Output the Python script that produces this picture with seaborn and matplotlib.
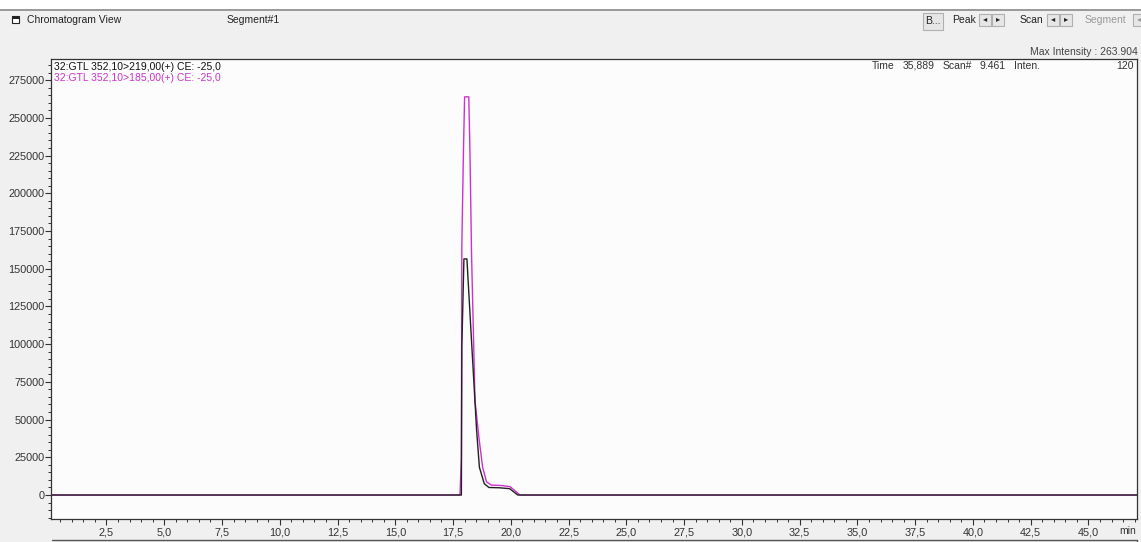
import pandas as pd
import matplotlib.pyplot as plt
import matplotlib.patches as mpatches
from matplotlib.ticker import MultipleLocator, FuncFormatter
import seaborn as sns

# Trace labels
label_219 = "32:GTL 352,10>219,00(+) CE: -25,0"
label_185 = "32:GTL 352,10>185,00(+) CE: -25,0"

# Trace 352,10>219,00 (black)
time_219 = [0.1, 17.86, 17.88, 17.97, 18.10, 18.30, 18.52, 18.64, 18.85,
            19.05, 19.50, 19.95, 20.30, 47.1]
inten_219 = [0, 0, 98000, 156500, 156500, 102000, 42800, 18400, 7500,
             5000, 4800, 4200, 0, 0]

# Trace 352,10>185,00 (magenta)
time_185 = [0.1, 17.80, 17.86, 17.88, 17.95, 18.00, 18.18, 18.23, 18.30,
            18.45, 18.62, 18.78, 18.95, 19.15, 19.60, 19.97, 20.40, 47.1]
inten_185 = [0, 0, 25000, 165000, 228000, 263904, 263904, 229000, 160000,
             62500, 38000, 18400, 8700, 6600, 6300, 5500, 0, 0]

df = pd.concat([
    pd.DataFrame({"time": time_185, "inten": inten_185, "trace": label_185}),
    pd.DataFrame({"time": time_219, "inten": inten_219, "trace": label_219}),
])

sns.set_style("ticks")
plt.rcParams["font.family"] = ["Liberation Sans", "DejaVu Sans"]
plt.rcParams["font.size"] = 7.5

W, H = 1141, 542
fig = plt.figure(figsize=(W / 100, H / 100), dpi=100, facecolor="#f0f0f0")


def fx(x):
    return x / W


def fy(y):
    return 1 - y / H


ax = fig.add_axes([fx(51), fy(519), fx(1137) - fx(51), fy(59) - fy(519)])
ax.set_facecolor("#fcfcfc")

magenta = "#cc33cc"
black = "#222222"

sns.lineplot(
    data=df, x="time", y="inten", hue="trace",
    hue_order=[label_185, label_219],
    palette={label_185: magenta, label_219: black},
    estimator=None, sort=False, legend=False, linewidth=1.0, ax=ax,
)

ax.set_xlim(0.1, 47.1)
ax.set_ylim(-15900, 289000)
ax.set_xlabel("")
ax.set_ylabel("")

ax.xaxis.set_major_locator(MultipleLocator(2.5))
ax.xaxis.set_minor_locator(MultipleLocator(0.5))
ax.yaxis.set_major_locator(MultipleLocator(25000))
ax.yaxis.set_minor_locator(MultipleLocator(5000))
ax.xaxis.set_major_formatter(FuncFormatter(
    lambda v, p: "" if v <= 0 else f"{v:.1f}".replace(".", ",")))
ax.yaxis.set_major_formatter(FuncFormatter(lambda v, p: f"{int(round(v))}"))

ax.tick_params(axis="both", which="major", length=4, width=0.8,
               color="#333333", labelsize=7.8, labelcolor="#333333")
ax.tick_params(axis="both", which="minor", length=2.5, width=0.7,
               color="#333333")
ax.tick_params(axis="y", pad=0.5)
ax.tick_params(axis="x", pad=2)

for s in ax.spines.values():
    s.set_visible(True)
    s.set_color("#333333")
    s.set_linewidth(0.9)

# trace labels inside the plot
ax.text(0.003, 0.982, label_219, transform=ax.transAxes, color="#111111",
        fontsize=7.5, ha="left", va="center")
ax.text(0.003, 0.958, label_185, transform=ax.transAxes, color=magenta,
        fontsize=7.5, ha="left", va="center")

# cursor readout
readout = [(872, "Time"), (903, "35,889"), (943, "Scan#"), (980, "9.461"),
           (1014, "Inten.")]
for xp, txt in readout:
    fig.text(fx(xp), fy(66), txt, fontsize=7.5, color="#333333",
             ha="left", va="center")
fig.text(fx(1134), fy(66), "120", fontsize=7.5, color="#333333",
         ha="right", va="center")
fig.text(fx(1138), fy(52), "Max Intensity : 263.904", fontsize=7.5,
         color="#444444", ha="right", va="center")
fig.text(fx(1128), fy(531), "min", fontsize=7.5, color="#333333",
         ha="center", va="center")

# header strip
fig.add_artist(mpatches.Rectangle((0, fy(9)), 1, 1 - fy(9),
                                  transform=fig.transFigure,
                                  facecolor="white", edgecolor="none"))
fig.add_artist(plt.Line2D([0, 1], [fy(10), fy(10)], transform=fig.transFigure,
                          color="#8a8a8a", linewidth=1.2))
fig.add_artist(mpatches.Rectangle((fx(12), fy(23)), fx(7), fy(16) - fy(23),
                                  transform=fig.transFigure,
                                  facecolor="white", edgecolor="#222222",
                                  linewidth=0.8))
fig.add_artist(mpatches.Rectangle((fx(12), fy(19)), fx(7), fy(16) - fy(19),
                                  transform=fig.transFigure,
                                  facecolor="#222222", edgecolor="none"))
fig.text(fx(27), fy(20), "Chromatogram View", fontsize=7.5, color="#222222",
         ha="left", va="center")
fig.text(fx(227), fy(20), "Segment#1", fontsize=7.5, color="#222222",
         ha="left", va="center")

# toolbar buttons
def button(x0, x1, y0, y1, txt="", col="#222222", size=7.5):
    fig.add_artist(mpatches.Rectangle((fx(x0), fy(y1)), fx(x1 - x0),
                                      fy(y0) - fy(y1),
                                      transform=fig.transFigure,
                                      facecolor="#e6e6e6",
                                      edgecolor="#b0b0b0", linewidth=0.8))
    if txt:
        fig.text(fx((x0 + x1) / 2), fy((y0 + y1) / 2), txt, fontsize=size,
                 color=col, ha="center", va="center")


button(923, 943, 13, 30, "B...")
fig.text(fx(952), fy(20), "Peak", fontsize=7.5, color="#222222",
         ha="left", va="center")
button(979, 991, 14, 26, "◂", size=6)
button(992, 1004, 14, 26, "▸", size=6)
fig.text(fx(1020), fy(20), "Scan", fontsize=7.5, color="#222222",
         ha="left", va="center")
button(1047, 1059, 14, 26, "◂", size=6)
button(1060, 1072, 14, 26, "▸", size=6)
fig.text(fx(1085), fy(20), "Segment", fontsize=7.5, color="#999999",
         ha="left", va="center")
button(1133, 1145, 14, 26, "◂", col="#999999", size=6)

# next panel edge at the bottom
fig.add_artist(plt.Line2D([fx(52), fx(1137), fx(1137)],
                          [fy(540), fy(540), fy(545)],
                          transform=fig.transFigure,
                          color="#555555", linewidth=1.0))

fig.savefig("out.png", dpi=100, facecolor=fig.get_facecolor())
